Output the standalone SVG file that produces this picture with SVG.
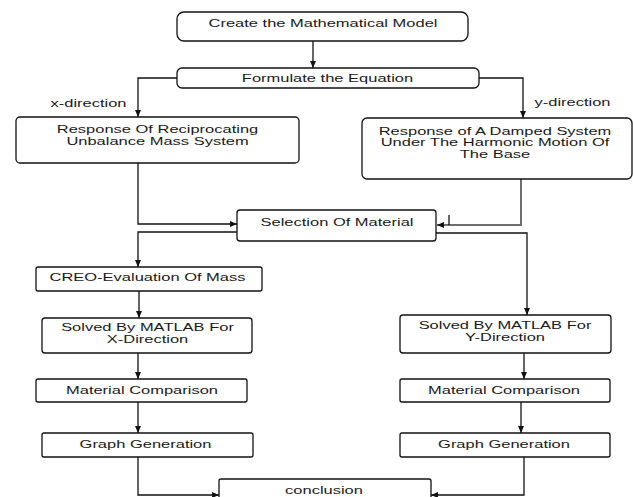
<svg xmlns="http://www.w3.org/2000/svg" width="633" height="497" viewBox="0 0 633 497">
<style>
.box{fill:#fff;stroke:#111;stroke-width:1.3}
.t{font-family:"Liberation Sans",Arial,sans-serif;font-size:10.5px;fill:#1a1a1a;text-anchor:middle}
.c{fill:none;stroke:#111;stroke-width:1.3}
.g{fill:none;stroke:#6e6e6e;stroke-width:2}
</style>
<defs>
<marker id="ah" markerUnits="userSpaceOnUse" markerWidth="7" markerHeight="6" refX="7" refY="3" orient="auto">
<path d="M0,0 L7,3 L0,6 z" fill="#111"/>
</marker>
</defs>
<rect width="633" height="497" fill="#fff"/>
<g id="connectors">
<path class="c" d="M313,41 V68" marker-end="url(#ah)"/>
<path class="c" d="M177,78 H138 V117" marker-end="url(#ah)"/>
<path class="c" d="M479,78 H523 V118" marker-end="url(#ah)"/>
<path class="c" d="M138,163 V224 H237" marker-end="url(#ah)"/>
<path class="g" d="M521,179 V225 H437" marker-end="url(#ah)"/>
<path class="c" d="M449,215 V225"/>
<path class="c" d="M237,232 H138 V267" marker-end="url(#ah)"/>
<path class="c" d="M436,233 H527 V315" marker-end="url(#ah)"/>
<path class="c" d="M139,291 V318" marker-end="url(#ah)"/>
<path class="c" d="M138,353 V379" marker-end="url(#ah)"/>
<path class="c" d="M138,402 V433" marker-end="url(#ah)"/>
<path class="c" d="M524,353 V379" marker-end="url(#ah)"/>
<path class="c" d="M521,402 V433" marker-end="url(#ah)"/>
<path class="c" d="M138,457 V495 H219" marker-end="url(#ah)"/>
<path class="c" d="M524,457 V495 H431" marker-end="url(#ah)"/>
<text class="t" transform="translate(88.5 107) scale(1.57 1)">x-direction</text>
<text class="t" transform="translate(572.5 106) scale(1.57 1)">y-direction</text>
</g>
<g id="n1">
<rect class="box" x="177" y="12" width="291" height="29" rx="7"/>
<text class="t" transform="translate(323 27) scale(1.57 1)">Create the Mathematical Model</text>
</g>
<g id="n2">
<rect class="box" x="177" y="68" width="302" height="20" rx="5"/>
<text class="t" transform="translate(327.5 82) scale(1.57 1)">Formulate the Equation</text>
</g>
<g id="n3">
<rect class="box" x="16" y="117" width="283" height="46" rx="4"/>
<text class="t" transform="translate(157.5 133) scale(1.57 1)"><tspan x="0" y="0">Response Of Reciprocating</tspan><tspan x="0" y="12">Unbalance Mass System</tspan></text>
</g>
<g id="n4">
<rect class="box" x="362" y="118" width="270" height="61" rx="5"/>
<text class="t" transform="translate(495 134.5) scale(1.57 1)"><tspan x="0" y="0">Response of A Damped System</tspan><tspan x="0" y="12">Under The Harmonic Motion Of</tspan><tspan x="0" y="24">The Base</tspan></text>
</g>
<g id="n5">
<rect class="box" x="237" y="210" width="199" height="31" rx="3"/>
<text class="t" transform="translate(337 225.5) scale(1.57 1)">Selection Of Material</text>
</g>
<g id="n6">
<rect class="box" x="36" y="267" width="226" height="24" rx="2"/>
<text class="t" transform="translate(147.5 280.5) scale(1.57 1)">CREO-Evaluation Of Mass</text>
</g>
<g id="n7">
<rect class="box" x="42" y="318" width="210" height="35" rx="3"/>
<text class="t" transform="translate(147.5 331) scale(1.57 1)"><tspan x="0" y="0">Solved By MATLAB For</tspan><tspan x="0" y="12">X-Direction</tspan></text>
</g>
<g id="n8">
<rect class="box" x="400" y="315" width="211" height="38" rx="3"/>
<text class="t" transform="translate(505 329) scale(1.57 1)"><tspan x="0" y="0">Solved By MATLAB For</tspan><tspan x="0" y="12.5">Y-Direction</tspan></text>
</g>
<g id="n9">
<rect class="box" x="36" y="379" width="211" height="23" rx="2"/>
<text class="t" transform="translate(142 393.5) scale(1.57 1)">Material Comparison</text>
</g>
<g id="n10">
<rect class="box" x="400" y="379" width="210" height="23" rx="2"/>
<text class="t" transform="translate(504 393.5) scale(1.57 1)">Material Comparison</text>
</g>
<g id="n11">
<rect class="box" x="42" y="433" width="211" height="24" rx="2"/>
<text class="t" transform="translate(145.5 447.5) scale(1.57 1)">Graph Generation</text>
</g>
<g id="n12">
<rect class="box" x="400" y="433" width="210" height="24" rx="2"/>
<text class="t" transform="translate(504 447.5) scale(1.57 1)">Graph Generation</text>
</g>
<g id="n13">
<rect class="box" x="219" y="479" width="212" height="30" rx="2"/>
<text class="t" transform="translate(324 493.5) scale(1.57 1)">conclusion</text>
</g>
</svg>
